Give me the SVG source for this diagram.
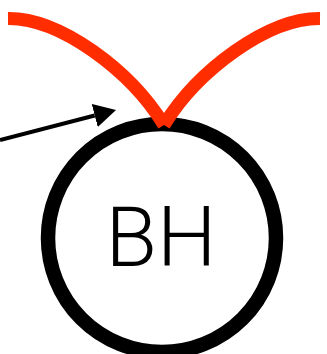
<svg xmlns="http://www.w3.org/2000/svg" width="327" height="354" viewBox="0 0 327 354">
<style>
.ring{fill:none;stroke:#000;stroke-width:14.5}
.cusp{fill:none;stroke:#ff2d00;stroke-width:13;stroke-linecap:butt}
.lbl{font-family:Roboto,"Liberation Sans",sans-serif;font-weight:300;font-size:84px;fill:#000}
.arrow{fill:none;stroke:#000;stroke-width:4}
</style>
<defs>
<marker id="ah" viewBox="0 0 5.5 6" refX="0" refY="3" markerWidth="5.5" markerHeight="6" orient="auto">
<path d="M0,0 L5.5,3 L0,6 z" fill="#000"/>
</marker>
</defs>
<g id="bh">
<circle class="ring" cx="162" cy="238" r="114"/>
<text class="lbl" x="161" y="266" text-anchor="middle">BH</text>
</g>
<g id="caustic">
<path class="cusp" d="M8,18.5 C60,18 130,70 164,125"/>
<path class="cusp" d="M320,18.5 C268,18 198,70 164,125"/>
</g>
<g id="connectors">
<path class="arrow" d="M0,140 L94.7,115.5" marker-end="url(#ah)"/>
</g>
</svg>
